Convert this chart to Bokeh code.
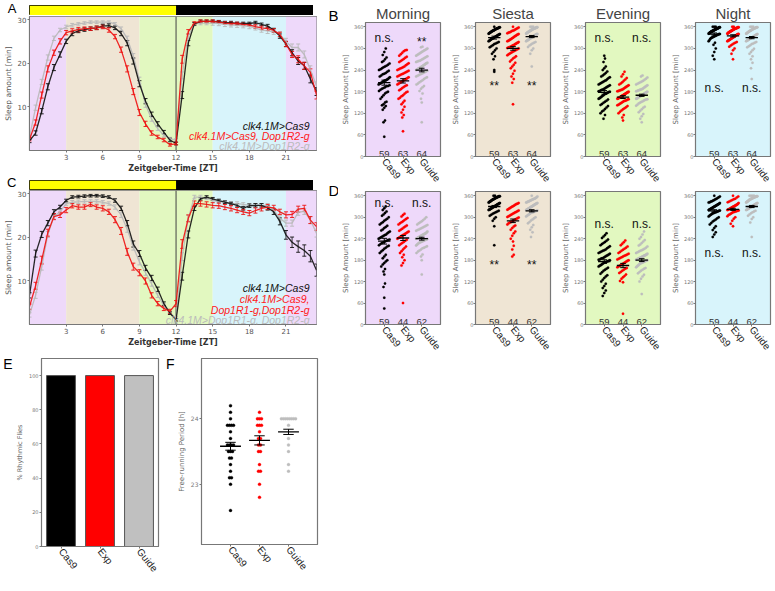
import math
from bokeh.plotting import figure
from bokeh.layouts import row, column
from bokeh.models import (Range1d, FixedTicker, Label, Whisker, TeeHead, LinearAxis,
                          ColumnDataSource, BoxAnnotation, Span)
from bokeh.core.properties import value
from bokeh.embed import file_html
from bokeh.resources import INLINE

# ------------------------------------------------------------------ data
zt_hours = [h * 0.5 for h in range(48)]
zt_ticks = [3, 6, 9, 12, 15, 18, 21]
phase_edges = [0, 3, 9, 15, 21, 24]
light_start = [0, 12]
light_end = [12, 24]

A_cas9 = [2.2, 4.0, 9.0, 14.6, 19.0, 22.0, 25.0, 26.8, 27.4, 27.7, 27.9, 28.1, 28.5, 28.6, 28.1, 26.8, 24.6, 20.5, 15.3, 11.3, 8.3, 6.1, 4.2, 2.4,
          1.6, 12.7, 24.6, 29.0, 29.6, 29.6, 29.6, 29.5, 29.3, 29.3, 29.1, 29.1, 29.1, 29.3, 28.9, 28.5, 27.6, 26.2, 24.4, 22.4, 20.5, 19.4, 16.4, 13.5]
A_exp = [2.6, 6.4, 12.7, 18.7, 22.4, 25.0, 27.0, 27.4, 27.7, 27.9, 27.9, 28.1, 28.3, 27.6, 26.1, 23.1, 18.7, 13.5, 8.7, 6.1, 4.0, 3.1, 2.4, 1.3,
         1.6, 20.9, 27.2, 29.2, 29.6, 29.6, 29.6, 29.4, 29.2, 29.1, 29.1, 28.9, 28.8, 28.4, 28.1, 27.9, 27.5, 26.6, 24.4, 22.0, 20.9, 19.4, 17.9, 12.7]
A_guide = [3.1, 9.8, 15.7, 21.3, 25.7, 27.6, 28.3, 28.7, 29.0, 29.2, 29.4, 29.4, 29.4, 29.4, 29.0, 27.9, 25.7, 21.6, 16.1, 10.5, 7.2, 5.0, 3.5, 2.7,
           2.4, 17.2, 26.1, 29.0, 29.2, 29.2, 29.2, 29.1, 28.9, 28.8, 28.7, 28.6, 28.4, 28.1, 27.6, 27.4, 27.2, 26.6, 25.0, 23.6, 23.6, 22.0, 18.5, 14.8]
A_cas9_sem = [0.4, 0.5, 0.6, 0.7, 0.7, 0.6, 0.5, 0.5, 0.4, 0.4, 0.4, 0.4, 0.4, 0.4, 0.4, 0.5, 0.6, 0.7, 0.7, 0.6, 0.5, 0.5, 0.4, 0.4,
              0.3, 0.8, 0.6, 0.3, 0.3, 0.3, 0.3, 0.3, 0.3, 0.3, 0.3, 0.3, 0.3, 0.3, 0.3, 0.4, 0.4, 0.5, 0.6, 0.7, 0.8, 0.8, 0.9, 0.9]
A_exp_sem = [0.4, 0.6, 0.7, 0.7, 0.6, 0.6, 0.5, 0.5, 0.5, 0.4, 0.4, 0.4, 0.4, 0.5, 0.5, 0.6, 0.7, 0.7, 0.7, 0.6, 0.5, 0.4, 0.4, 0.3,
             0.3, 0.9, 0.5, 0.3, 0.3, 0.3, 0.3, 0.3, 0.3, 0.3, 0.3, 0.3, 0.3, 0.4, 0.4, 0.4, 0.4, 0.5, 0.6, 0.7, 0.8, 0.8, 0.8, 0.9]
A_guide_sem = [0.4, 0.6, 0.6, 0.6, 0.5, 0.4, 0.4, 0.4, 0.3, 0.3, 0.3, 0.3, 0.3, 0.3, 0.3, 0.4, 0.5, 0.6, 0.7, 0.6, 0.5, 0.4, 0.4, 0.3,
               0.3, 0.8, 0.5, 0.4, 0.4, 0.4, 0.5, 0.5, 0.5, 0.5, 0.5, 0.5, 0.5, 0.5, 0.5, 0.6, 0.6, 0.6, 0.7, 0.8, 0.8, 0.8, 0.9, 0.9]

C_cas9 = [6.7, 16.3, 20.7, 23.3, 25.9, 27.0, 28.5, 29.3, 29.4, 29.5, 29.6, 29.6, 29.5, 29.3, 28.5, 26.7, 23.3, 18.5, 16.3, 13.0, 10.7, 8.1, 4.8, 2.6,
          1.1, 11.1, 20.7, 26.7, 28.9, 29.3, 28.9, 28.5, 28.1, 27.8, 27.4, 26.7, 27.3, 27.4, 27.4, 26.8, 25.9, 23.7, 20.6, 18.9, 17.9, 17.0, 15.7, 12.5]
C_exp = [4.1, 8.9, 14.8, 21.1, 24.8, 25.2, 26.3, 27.3, 27.0, 27.0, 27.6, 27.0, 26.7, 25.9, 24.1, 21.5, 16.7, 13.3, 11.9, 10.0, 6.7, 4.8, 3.7, 3.0,
         4.8, 18.5, 24.4, 27.8, 27.8, 27.6, 27.4, 27.3, 27.0, 26.7, 26.3, 25.9, 25.6, 26.2, 26.7, 27.0, 26.8, 25.9, 25.2, 25.3, 26.5, 26.7, 24.0, 22.5]
C_guide = [2.2, 6.7, 13.3, 20.7, 24.8, 25.9, 27.8, 28.1, 28.2, 28.3, 28.3, 28.3, 28.1, 27.8, 27.0, 25.2, 21.9, 17.8, 14.4, 11.9, 9.3, 6.7, 4.4, 2.6,
           1.5, 15.6, 24.4, 29.3, 29.3, 29.1, 28.5, 28.3, 28.1, 27.8, 27.8, 27.6, 27.4, 27.4, 27.4, 27.3, 26.3, 24.4, 23.3, 23.3, 25.8, 26.0, 24.0, 21.0]
C_cas9_sem = [0.6, 0.8, 0.7, 0.6, 0.5, 0.4, 0.3, 0.3, 0.3, 0.3, 0.3, 0.3, 0.3, 0.3, 0.4, 0.5, 0.6, 0.7, 0.7, 0.6, 0.6, 0.5, 0.4, 0.3,
              0.3, 0.9, 0.8, 0.5, 0.3, 0.3, 0.3, 0.3, 0.3, 0.3, 0.4, 0.4, 0.4, 0.4, 0.4, 0.5, 0.6, 0.8, 1.0, 1.2, 1.3, 1.3, 1.3, 1.4]
C_exp_sem = [0.6, 0.8, 0.9, 0.8, 0.7, 0.6, 0.6, 0.5, 0.5, 0.5, 0.5, 0.5, 0.6, 0.6, 0.7, 0.8, 0.8, 0.8, 0.7, 0.7, 0.6, 0.5, 0.5, 0.5,
             0.7, 1.0, 0.8, 0.6, 0.6, 0.6, 0.6, 0.6, 0.6, 0.6, 0.6, 0.6, 0.6, 0.6, 0.6, 0.6, 0.6, 0.6, 0.7, 0.7, 0.7, 0.7, 0.8, 0.9]
C_guide_sem = [0.5, 0.7, 0.8, 0.7, 0.6, 0.5, 0.4, 0.4, 0.4, 0.4, 0.4, 0.4, 0.4, 0.4, 0.5, 0.6, 0.7, 0.7, 0.7, 0.6, 0.5, 0.5, 0.4, 0.3,
               0.3, 0.9, 0.7, 0.4, 0.4, 0.4, 0.4, 0.4, 0.4, 0.4, 0.4, 0.4, 0.4, 0.4, 0.4, 0.5, 0.5, 0.6, 0.7, 0.7, 0.7, 0.7, 0.8, 0.9]

A_legend = ["clk4.1M>Cas9", "clk4.1M>Cas9, Dop1R2-g", "clk4.1M>Dop1R2-g"]
C_legend = ["clk4.1M>Cas9", "clk4.1M>Cas9,", "Dop1R1-g,Dop1R2-g", "clk4.1M>Dop1R1-g, Dop1R2-g"]

groups = ["Cas9", "Exp", "Guide"]
group_pos = [1, 2, 3]
phase_names = ["Morning", "Siesta", "Evening", "Night"]
B_n = ["59", "63", "64"]
D_n = ["59", "44", "62"]

B_morning_cas9 = [55, 95, 100, 130, 135, 140, 142, 145, 150, 152, 160, 165, 170, 175, 178, 180, 182, 185, 188, 190, 192, 195, 196, 198, 200, 202, 203, 205, 206, 208, 210, 211, 212, 214, 215, 218, 220, 222, 225, 228, 230, 232, 235, 238, 240, 242, 245, 248, 250, 252, 255, 258, 262, 265, 270, 275, 282, 290, 300]
B_morning_exp = [70, 108, 115, 122, 130, 138, 145, 150, 155, 160, 163, 167, 170, 174, 178, 180, 184, 187, 190, 193, 196, 198, 200, 202, 204, 206, 208, 210, 212, 214, 216, 218, 220, 222, 224, 226, 228, 230, 232, 234, 236, 238, 240, 242, 244, 246, 248, 250, 253, 256, 259, 262, 265, 268, 271, 274, 277, 280, 284, 288, 292, 295, 296]
B_morning_guide = [95, 150, 160, 175, 182, 188, 192, 196, 200, 203, 206, 209, 212, 215, 218, 220, 222, 224, 226, 228, 230, 232, 234, 236, 238, 240, 241, 242, 244, 245, 246, 248, 249, 250, 252, 253, 255, 256, 258, 259, 260, 262, 264, 265, 266, 268, 270, 272, 274, 276, 278, 280, 282, 284, 286, 288, 290, 292, 294, 296, 298, 300, 303, 305]
B_siesta_cas9 = [235, 240, 270, 278, 285, 290, 295, 300, 303, 306, 309, 312, 314, 316, 318, 320, 321, 322, 324, 325, 326, 327, 328, 329, 330, 331, 332, 333, 334, 335, 336, 337, 338, 339, 340, 341, 342, 343, 344, 345, 346, 347, 348, 349, 350, 350, 351, 352, 353, 354, 354, 355, 356, 356, 357, 358, 358, 359, 360]
B_siesta_exp = [145, 205, 215, 222, 230, 238, 245, 250, 255, 260, 264, 268, 272, 275, 278, 281, 284, 286, 288, 290, 292, 294, 296, 298, 300, 301, 302, 303, 304, 305, 306, 308, 309, 310, 312, 313, 315, 316, 318, 320, 321, 323, 325, 326, 328, 330, 332, 334, 335, 337, 339, 340, 342, 344, 345, 347, 349, 350, 352, 354, 356, 358, 360]
B_siesta_guide = [250, 285, 295, 300, 304, 308, 311, 314, 316, 318, 320, 321, 322, 323, 324, 325, 326, 327, 328, 329, 330, 331, 332, 333, 334, 335, 336, 337, 338, 339, 340, 340, 341, 342, 343, 344, 345, 345, 346, 347, 348, 348, 349, 350, 350, 351, 352, 352, 353, 354, 354, 355, 355, 356, 356, 357, 357, 358, 358, 359, 359, 360, 360, 360]
B_evening_cas9 = [105, 115, 120, 125, 128, 132, 136, 140, 143, 146, 149, 152, 155, 158, 160, 162, 164, 166, 168, 170, 172, 174, 175, 176, 178, 179, 180, 181, 182, 184, 185, 186, 188, 190, 192, 194, 196, 198, 200, 202, 204, 206, 208, 210, 212, 215, 218, 220, 222, 225, 228, 232, 236, 240, 245, 250, 262, 272, 280]
B_evening_exp = [100, 108, 115, 120, 124, 128, 131, 134, 137, 140, 142, 144, 146, 148, 150, 152, 154, 155, 156, 158, 159, 160, 161, 162, 163, 164, 165, 166, 167, 168, 169, 170, 171, 172, 173, 174, 175, 176, 177, 178, 179, 180, 181, 182, 183, 184, 185, 186, 188, 190, 192, 194, 196, 198, 200, 203, 206, 210, 214, 218, 222, 228, 235]
B_evening_guide = [95, 105, 112, 118, 123, 127, 131, 135, 138, 141, 144, 147, 149, 151, 153, 155, 157, 158, 159, 160, 161, 162, 163, 164, 165, 166, 167, 168, 169, 170, 171, 172, 173, 174, 175, 176, 177, 178, 179, 180, 181, 182, 183, 184, 185, 186, 187, 188, 190, 192, 194, 196, 198, 200, 202, 204, 206, 208, 210, 213, 216, 219, 222, 225]
B_night_cas9 = [270, 280, 290, 300, 310, 316, 320, 323, 326, 328, 330, 331, 332, 333, 334, 335, 336, 337, 338, 339, 340, 340, 341, 342, 343, 343, 344, 345, 345, 346, 347, 347, 348, 348, 349, 349, 350, 350, 351, 351, 352, 352, 353, 353, 354, 354, 355, 355, 356, 356, 357, 357, 358, 358, 359, 359, 360, 360, 360]
B_night_exp = [270, 285, 295, 300, 305, 308, 311, 314, 316, 318, 320, 321, 322, 323, 324, 325, 326, 327, 328, 329, 330, 331, 332, 333, 334, 335, 336, 337, 338, 339, 340, 340, 341, 342, 343, 344, 345, 345, 346, 347, 348, 348, 349, 350, 350, 351, 352, 352, 353, 354, 354, 355, 355, 356, 356, 357, 357, 358, 358, 359, 359, 360, 360]
B_night_guide = [215, 245, 260, 270, 278, 285, 290, 295, 299, 303, 306, 309, 312, 314, 316, 318, 320, 321, 322, 323, 324, 325, 326, 327, 328, 329, 330, 331, 332, 333, 334, 335, 336, 337, 338, 339, 340, 341, 342, 343, 344, 345, 346, 347, 348, 349, 350, 350, 351, 352, 353, 354, 354, 355, 356, 356, 357, 358, 358, 359, 359, 360, 360, 360]

D_morning_cas9 = [45, 75, 105, 115, 140, 148, 155, 162, 168, 172, 176, 180, 185, 190, 195, 200, 204, 208, 212, 215, 218, 220, 222, 225, 228, 230, 232, 234, 236, 238, 240, 242, 244, 246, 248, 250, 252, 255, 258, 260, 263, 266, 270, 273, 276, 280, 283, 286, 290, 293, 296, 300, 304, 308, 312, 316, 320, 325, 330]
D_morning_exp = [60, 165, 172, 180, 188, 195, 200, 205, 210, 214, 218, 222, 225, 228, 231, 234, 237, 240, 242, 244, 246, 248, 250, 252, 254, 256, 258, 260, 262, 265, 268, 271, 274, 277, 280, 283, 286, 289, 292, 295, 298, 302, 306, 310]
D_morning_guide = [140, 180, 190, 196, 200, 204, 207, 210, 213, 215, 217, 219, 221, 223, 225, 227, 229, 230, 231, 232, 233, 234, 235, 236, 237, 238, 239, 240, 241, 242, 243, 244, 245, 246, 247, 248, 249, 250, 251, 252, 253, 254, 255, 256, 258, 260, 262, 264, 266, 268, 270, 272, 274, 276, 278, 280, 283, 286, 289, 292, 296, 300]
D_siesta_cas9 = [222, 275, 290, 296, 300, 304, 307, 310, 312, 314, 316, 318, 320, 321, 322, 323, 324, 325, 326, 327, 328, 329, 330, 331, 332, 333, 334, 335, 336, 337, 338, 339, 340, 341, 342, 343, 344, 345, 346, 347, 348, 349, 350, 350, 351, 352, 353, 354, 354, 355, 356, 356, 357, 358, 358, 359, 359, 360, 360]
D_siesta_exp = [190, 195, 210, 220, 232, 240, 248, 255, 260, 265, 270, 274, 277, 280, 283, 285, 287, 289, 291, 293, 295, 297, 299, 301, 303, 305, 307, 309, 311, 313, 315, 317, 319, 321, 323, 325, 327, 329, 331, 333, 335, 337, 338, 340]
D_siesta_guide = [245, 258, 265, 272, 278, 283, 287, 291, 294, 297, 300, 302, 304, 306, 308, 310, 312, 313, 314, 315, 316, 317, 318, 319, 320, 321, 322, 323, 324, 325, 326, 327, 328, 329, 330, 331, 332, 333, 334, 335, 336, 337, 338, 339, 340, 341, 342, 343, 344, 345, 346, 347, 348, 349, 350, 351, 352, 353, 354, 356, 358, 360]
D_evening_cas9 = [80, 88, 95, 102, 108, 114, 120, 125, 130, 134, 138, 142, 146, 150, 153, 156, 159, 162, 164, 166, 168, 170, 172, 174, 175, 176, 177, 178, 180, 181, 182, 184, 185, 186, 188, 190, 192, 194, 196, 198, 200, 202, 204, 206, 208, 210, 213, 216, 219, 222, 225, 228, 231, 234, 238, 242, 246, 250, 255]
D_evening_exp = [30, 118, 122, 128, 132, 136, 140, 144, 147, 150, 153, 156, 158, 160, 162, 164, 166, 168, 170, 172, 174, 176, 178, 180, 182, 184, 186, 188, 190, 192, 194, 196, 198, 200, 203, 206, 209, 212, 215, 218, 222, 226, 230, 235]
D_evening_guide = [85, 120, 128, 134, 139, 143, 147, 150, 153, 156, 158, 160, 162, 164, 166, 168, 170, 171, 172, 173, 174, 175, 176, 177, 178, 179, 180, 181, 182, 183, 184, 185, 186, 187, 188, 189, 190, 191, 192, 193, 194, 195, 196, 198, 200, 202, 204, 206, 208, 210, 212, 215, 218, 221, 224, 228, 232, 236, 240, 245, 252, 260]
D_night_cas9 = [245, 252, 258, 264, 270, 275, 280, 284, 288, 291, 294, 297, 300, 302, 304, 306, 308, 310, 311, 312, 313, 314, 315, 316, 317, 318, 319, 320, 321, 322, 323, 324, 325, 326, 327, 328, 329, 330, 331, 332, 333, 334, 335, 336, 337, 338, 340, 341, 342, 344, 345, 347, 348, 350, 352, 354, 356, 358, 360]
D_night_exp = [275, 282, 290, 296, 300, 303, 306, 308, 310, 312, 314, 315, 316, 317, 318, 319, 320, 321, 322, 323, 324, 325, 326, 327, 328, 329, 330, 331, 332, 333, 334, 335, 336, 338, 340, 342, 344, 346, 348, 350, 352, 355, 358, 360]
D_night_guide = [245, 285, 295, 300, 304, 308, 311, 314, 316, 318, 320, 321, 322, 323, 324, 325, 326, 327, 328, 329, 330, 331, 332, 333, 334, 335, 336, 337, 338, 339, 340, 341, 342, 343, 344, 345, 346, 347, 348, 349, 350, 350, 351, 352, 352, 353, 354, 354, 355, 355, 356, 356, 357, 357, 358, 358, 359, 359, 360, 360, 360, 360]

B_means = {"Morning": [205, 210, 240], "Siesta": [330, 300, 333], "Evening": [178, 165, 170], "Night": [340, 335, 330]}
B_sems = {"Morning": [7, 6, 5], "Siesta": [4, 5, 3], "Evening": [5, 4, 3], "Night": [3, 3, 3]}
D_means = {"Morning": [233, 242, 240], "Siesta": [330, 290, 318], "Evening": [176, 165, 180], "Night": [318, 322, 330]}
D_sems = {"Morning": [8, 7, 4], "Siesta": [3, 5, 3], "Evening": [5, 6, 4], "Night": [3, 3, 3]}

B_sig_text = {"Morning": ["n.s.", "", "**"], "Siesta": ["**", "", "**"], "Evening": ["n.s.", "", "n.s."], "Night": ["n.s.", "", "n.s."]}
B_sig_y = {"Morning": [330, 0, 318], "Siesta": [196, 0, 196], "Evening": [330, 0, 330], "Night": [190, 0, 190]}
D_sig_text = {"Morning": ["n.s.", "", "n.s."], "Siesta": ["**", "", "**"], "Evening": ["n.s.", "", "n.s."], "Night": ["n.s.", "", "n.s."]}
D_sig_y = {"Morning": [341, 0, 341], "Siesta": [166, 0, 166], "Evening": [281, 0, 281], "Night": [200, 0, 200]}

E_rhythmic = [100, 100, 100]

F_cas9 = [22.6, 23.0, 23.1, 23.1, 23.2, 23.3, 23.4, 23.4, 23.5, 23.5, 23.5, 23.6, 23.6, 23.6, 23.6, 23.7, 23.8, 23.9, 23.9, 23.9, 23.9, 24.0, 24.1, 24.2]
F_exp = [22.8, 23.0, 23.2, 23.2, 23.3, 23.5, 23.5, 23.6, 23.6, 23.7, 23.7, 23.8, 23.9, 23.9, 23.9, 24.0, 24.0, 24.0, 24.1]
F_guide = [23.2, 23.3, 23.5, 23.6, 23.7, 23.9, 24.0, 24.0, 24.0, 24.0, 24.0, 24.0, 24.0, 24.0]
F_means = [23.58, 23.67, 23.80]
F_sems = [0.06, 0.07, 0.04]

panel_letters = ["A", "B", "C", "D", "E", "F"]

# ------------------------------------------------------------------ styles
FONT = "Liberation Sans"
TFONT = "DejaVu Sans"
PURPLE = "#eed9fa"
BEIGE = "#efe5d4"
GREEN = "#e2f8c0"
BLUE = "#d8f4fb"
phase_colors = [PURPLE, BEIGE, GREEN, BLUE, PURPLE]
phase_bg = {"Morning": PURPLE, "Siesta": BEIGE, "Evening": GREEN, "Night": BLUE}
series_colors = ["#111111", "#ee1111", "#b8b8b8"]
dot_colors = ["#000000", "#ff0000", "#bdbdbd"]
light_colors = ["#ffff00", "#000000"]


def mkfig(fw, fh, bl, br, bt, bb, xr, yr, xaxis=True, yaxis=True, title=None):
    kw = {}
    if not xaxis:
        kw["x_axis_location"] = None
    if not yaxis:
        kw["y_axis_location"] = None
    p = figure(frame_width=fw, frame_height=fh, min_border_left=bl, min_border_right=br,
               min_border_top=bt, min_border_bottom=bb, x_range=xr, y_range=yr,
               output_backend="svg", toolbar_location=None, title=title, **kw)
    p.xgrid.visible = False
    p.ygrid.visible = False
    p.outline_line_color = "#777777"
    p.outline_line_width = 1.2
    return p


def style_axis(ax, size, color="#666666"):
    ax.major_label_text_font_size = size
    ax.major_label_text_color = color
    ax.major_label_text_font = TFONT
    ax.minor_tick_line_color = None
    ax.major_tick_in = 0
    ax.major_tick_out = 2
    ax.major_label_standoff = 1
    ax.axis_line_color = "#777777"
    ax.major_tick_line_color = "#777777"
    ax.axis_label_text_font_style = "normal"
    ax.axis_label_text_font = TFONT
    ax.axis_label_standoff = 2


def style_letter(ax, txt, tick, standoff, size):
    ax.ticker = FixedTicker(ticks=[tick])
    ax.major_label_overrides = {tick: txt}
    ax.major_label_text_font = FONT
    ax.major_label_text_font_size = size
    ax.major_label_text_color = "black"
    ax.major_label_standoff = standoff
    ax.major_tick_in = 0
    ax.major_tick_out = 0
    ax.major_tick_line_color = None
    ax.minor_tick_line_color = None
    ax.axis_line_color = None


def letter_axis(p, txt, standoff, tick):
    # panel letter shown as the single tick label of the bar strip's left axis
    style_letter(p.yaxis[0], txt, tick, standoff, "13px")


def letter_side_axis(p, txt, tick):
    # extra outer left axis carrying only the panel letter
    ax = LinearAxis()
    style_letter(ax, txt, tick, 0, "14px")
    p.add_layout(ax, "left")


def bar_fig(xr, bt, fh, bb):
    p = mkfig(287, fh, 24, 1, bt, bb, xr, Range1d(0, 1), xaxis=False)
    p.quad(left=light_start, right=light_end, bottom=0, top=1,
           fill_color=light_colors, line_color=None)
    p.outline_line_color = "black"
    p.outline_line_width = 1
    return p


def ts_fig(xr, ymax, series, sems, bt, fh, bb, legend, legend_y, legend_cols):
    p = mkfig(287, fh, 24, 1, bt, bb, xr, Range1d(0, ymax))
    for i in range(len(phase_colors)):
        p.add_layout(BoxAnnotation(left=phase_edges[i], right=phase_edges[i + 1],
                                   fill_color=phase_colors[i], fill_alpha=1,
                                   line_alpha=0, level="underlay"))
    p.add_layout(Span(location=12, dimension="height", line_color="#444444",
                      line_width=1, level="underlay"))
    order = [2, 0, 1]
    for k in order:
        vals, sem, col = series[k], sems[k], series_colors[k]
        src = ColumnDataSource(dict(x=zt_hours, y=vals,
                                    lo=[v - s for v, s in zip(vals, sem)],
                                    hi=[v + s for v, s in zip(vals, sem)]))
        p.line("x", "y", source=src, line_color=col, line_width=1.3, line_alpha=0.9)
        p.add_layout(Whisker(source=src, base="x", upper="hi", lower="lo",
                             line_color=col, line_width=0.9, line_alpha=0.9,
                             upper_head=TeeHead(size=4, line_color=col, line_width=0.9),
                             lower_head=TeeHead(size=4, line_color=col, line_width=0.9)))
    p.xaxis.ticker = FixedTicker(ticks=zt_ticks)
    p.yaxis.ticker = FixedTicker(ticks=[10, 20, 30])
    style_axis(p.xaxis[0], "7px", "#555555")
    style_axis(p.yaxis[0], "7px", "#555555")
    p.xaxis.axis_label = "Zeitgeber-Time [ZT]"
    p.xaxis.axis_label_text_font_size = "8px"
    p.xaxis.axis_label_text_font_style = "bold"
    p.xaxis.axis_label_text_color = "#333333"
    p.xaxis.axis_label_standoff = 1
    p.yaxis.axis_label = "Sleep amount [min]"
    p.yaxis.axis_label_text_font_size = "7.5px"
    p.yaxis.axis_label_text_color = "#555555"
    for txt, yy, col in zip(legend, legend_y, legend_cols):
        p.add_layout(Label(x=280, y=yy, x_units="screen", y_units="screen", text=txt,
                           text_align="right", text_baseline="alphabetic",
                           text_font=FONT, text_font_size="10.5px",
                           text_font_style="italic", text_color=col))
    return p


def swarm(vals, center, bin_w, dx, maxw):
    bins = {}
    for v in sorted(vals):
        bins.setdefault(int(round(v / bin_w - 0.5)), []).append(v)
    xs, ys = [], []
    for items in bins.values():
        k = len(items)
        d = dx if k <= 1 else min(dx, 2 * maxw / (k - 1))
        for i, v in enumerate(items):
            xs.append(center + (i - (k - 1) / 2) * d)
            ys.append(v)
    return xs, ys


def style_cat_xaxis(p):
    p.xaxis.ticker = FixedTicker(ticks=group_pos)
    p.xaxis.major_label_overrides = {g: n for g, n in zip(group_pos, groups)}
    style_axis(p.xaxis[0], "10px", "#222222")
    p.xaxis.major_label_text_font = FONT
    p.xaxis.major_label_orientation = -0.9


def dot_fig(name, vals3, means, sems, nlab, sig_t, sig_y, bl, br, bt, fh, bb, title):
    p = mkfig(75, fh, bl, br, bt, bb, Range1d(0, 4), Range1d(0, 372),
              title=name if title else None)
    p.background_fill_color = phase_bg[name]
    if title:
        p.title.text_font = FONT
        p.title.text_font_size = "15px"
        p.title.text_font_style = "normal"
        p.title.align = "center"
        try:
            p.title.standoff = 2
        except Exception:
            pass
    for gi in range(3):
        xs, ys = swarm(vals3[gi], group_pos[gi], 20, 0.08, 0.3)
        p.scatter(xs, ys, size=2.5, fill_color=dot_colors[gi], line_color=dot_colors[gi], line_width=0.2)
    p.segment(x0=[g - 0.33 for g in group_pos], x1=[g + 0.33 for g in group_pos],
              y0=means, y1=means, line_color="black", line_width=1.3)
    p.segment(x0=group_pos, x1=group_pos, y0=[m - s for m, s in zip(means, sems)],
              y1=[m + s for m, s in zip(means, sems)], line_color="black", line_width=1)
    for sgn in (-1, 1):
        yy = [m + sgn * s for m, s in zip(means, sems)]
        p.segment(x0=[g - 0.15 for g in group_pos], x1=[g + 0.15 for g in group_pos],
                  y0=yy, y1=yy, line_color="black", line_width=1)
    p.text(x=group_pos, y=[0, 0, 0], text=nlab, text_align="center", text_baseline="bottom",
           text_font=value(FONT), text_font_size="9.5px", text_color="#333333")
    sx = [g for g, t in zip(group_pos, sig_t) if t]
    sy = [y for y, t in zip(sig_y, sig_t) if t]
    st = [t for t in sig_t if t]
    p.text(x=sx, y=sy, text=st, text_align="center", text_baseline="middle",
           text_font=value(FONT), text_font_size="12px", text_color="#111111")
    style_cat_xaxis(p)
    p.yaxis.ticker = FixedTicker(ticks=[0, 60, 120, 180, 240, 300, 360])
    style_axis(p.yaxis[0], "5px", "#777777")
    p.yaxis.major_label_standoff = 0
    p.yaxis.axis_label_standoff = 1
    p.yaxis.axis_label = "Sleep Amount [min]"
    p.yaxis.axis_label_text_font_size = "7px"
    p.yaxis.axis_label_text_color = "#666666"
    return p


# ------------------------------------------------------------------ left column
xrA = Range1d(0, 23.5)
xrC = Range1d(0, 23.5)
barA = bar_fig(xrA, 5, 10, 0)
letter_axis(barA, panel_letters[0], 13, 0.75)
figA = ts_fig(xrA, 30.7, [A_cas9, A_exp, A_guide], [A_cas9_sem, A_exp_sem, A_guide_sem],
              1, 134, 23, A_legend, [25, 15, 5], [series_colors[0], "#ff1a1a", "#bbbbbb"])
barC = bar_fig(xrC, 5, 9, 1)
letter_axis(barC, panel_letters[2], 13, 0.72)
figC = ts_fig(xrC, 30.8, [C_cas9, C_exp, C_guide], [C_cas9_sem, C_exp_sem, C_guide_sem],
              0, 134, 23, C_legend, [37, 26, 15, 5],
              [series_colors[0], "#ff1a1a", "#ff1a1a", "#bbbbbb"])

figE = mkfig(117, 188, 32, 4, 7, 34, Range1d(0.5, 3.5), Range1d(0, 110))
figE.vbar(x=group_pos, top=E_rhythmic, width=0.74, fill_color=dot_colors[:2] + ["#c0c0c0"],
          line_color="#555555", line_width=1)
style_cat_xaxis(figE)
figE.yaxis.ticker = FixedTicker(ticks=[0, 20, 40, 60, 80, 100])
style_axis(figE.yaxis[0], "5px", "#777777")
figE.yaxis.axis_label = "% Rhythmic Flies"
figE.yaxis.axis_label_text_font_size = "6.5px"
figE.yaxis.axis_label_text_color = "#666666"
letter_side_axis(figE, panel_letters[4], 107)

figF = mkfig(116, 186, 32, 11, 9, 34, Range1d(0, 4), Range1d(22.08, 24.92))
for gi, vals in enumerate([F_cas9, F_exp, F_guide]):
    xs, ys = swarm(vals, group_pos[gi], 0.05, 0.07, 0.3)
    figF.scatter(xs, ys, size=3.0, fill_color=dot_colors[gi], line_color=dot_colors[gi], line_width=0.3)
figF.segment(x0=[g - 0.36 for g in group_pos], x1=[g + 0.36 for g in group_pos],
             y0=F_means, y1=F_means, line_color="black", line_width=1.3)
figF.segment(x0=group_pos, x1=group_pos, y0=[m - s for m, s in zip(F_means, F_sems)],
             y1=[m + s for m, s in zip(F_means, F_sems)], line_color="black", line_width=1)
for sgn in (-1, 1):
    yy = [m + sgn * s for m, s in zip(F_means, F_sems)]
    figF.segment(x0=[g - 0.18 for g in group_pos], x1=[g + 0.18 for g in group_pos],
                 y0=yy, y1=yy, line_color="black", line_width=1)
style_cat_xaxis(figF)
figF.yaxis.ticker = FixedTicker(ticks=[23, 24])
style_axis(figF.yaxis[0], "6px", "#777777")
figF.yaxis.axis_label = "Free-running Period [h]"
figF.yaxis.axis_label_text_font_size = "7px"
figF.yaxis.axis_label_text_color = "#666666"
letter_side_axis(figF, panel_letters[5], 24.84)

left_col = column(barA, figA, barC, figC, row(figE, figF, spacing=0), spacing=0)

# ------------------------------------------------------------------ right column
B_vals = {"Morning": [B_morning_cas9, B_morning_exp, B_morning_guide],
          "Siesta": [B_siesta_cas9, B_siesta_exp, B_siesta_guide],
          "Evening": [B_evening_cas9, B_evening_exp, B_evening_guide],
          "Night": [B_night_cas9, B_night_exp, B_night_guide]}
D_vals = {"Morning": [D_morning_cas9, D_morning_exp, D_morning_guide],
          "Siesta": [D_siesta_cas9, D_siesta_exp, D_siesta_guide],
          "Evening": [D_evening_cas9, D_evening_exp, D_evening_guide],
          "Night": [D_night_cas9, D_night_exp, D_night_guide]}
left_borders = [21, 25, 25, 25]
right_borders = [8, 8, 8, 21]

B_figs, D_figs = [], []
for name, bl, br in zip(phase_names, left_borders, right_borders):
    B_figs.append(dot_fig(name, B_vals[name], B_means[name], B_sems[name], B_n,
                          B_sig_text[name], B_sig_y[name], bl, br, 22, 134, 33, True))
    D_figs.append(dot_fig(name, D_vals[name], D_means[name], D_sems[name], D_n,
                          D_sig_text[name], D_sig_y[name], bl, br, 1, 133, 34, False))

# narrow strip holding the panel letters B and D
strip_h = 357
strip = figure(frame_width=10, frame_height=strip_h, min_border=0,
               x_range=Range1d(0, 10), y_range=Range1d(0, strip_h),
               x_axis_location=None, y_axis_location=None,
               output_backend="svg", toolbar_location=None)
strip.xgrid.visible = False
strip.ygrid.visible = False
strip.outline_line_color = None
strip.text(x=[0, 0], y=[strip_h - 15, strip_h - 190], text=[panel_letters[1], panel_letters[3]],
           text_align="left", text_baseline="alphabetic", text_font=value(FONT),
           text_font_size="15px", text_color="black")

right_col = row(strip, column(row(*B_figs, spacing=0), row(*D_figs, spacing=0), spacing=0), spacing=0)

layout = row(left_col, right_col, spacing=0)
open("out.html", "w").write(file_html(layout, INLINE))
